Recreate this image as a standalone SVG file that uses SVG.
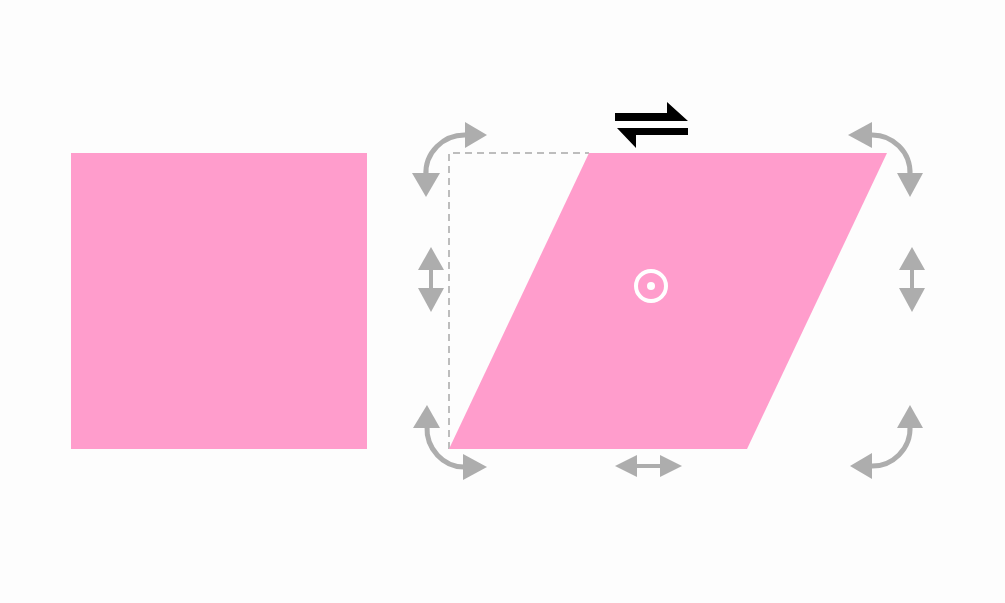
<svg xmlns="http://www.w3.org/2000/svg" width="1005" height="603" viewBox="0 0 1005 603">
<style>
.shape{fill:#ff9dcc}
.arc{fill:none;stroke:#adadad;stroke-width:5}
.head{fill:#adadad}
.shaft{stroke:#adadad;stroke-width:4}
.dash{fill:none;stroke:#bdbdbd;stroke-width:2;stroke-dasharray:7,5}
.harp{fill:#000}
</style>
<rect width="1005" height="603" fill="#fdfdfd"/>
<g id="square"><rect class="shape" x="71" y="153" width="296" height="296"/></g>
<g id="connectors">
<path class="dash" d="M449,449 V153 H589"/>
</g>
<g id="parallelogram">
<polygon class="shape" points="589,153 887,153 747,449 449,449"/>
<circle cx="651" cy="286" r="15" fill="none" stroke="#fff" stroke-width="4"/>
<circle cx="651" cy="286" r="4" fill="#fff"/>
</g>
<g id="shear-arrows">
<polygon class="harp" points="615,113 667,113 667,102 688,121 615,121"/>
<polygon class="harp" points="617,128 688,128 688,135 636,135 636,148"/>
</g>
<g id="rot-top-left">
<path class="arc" d="M426,176 A39,38 0 0 1 467,135"/>
<polygon class="head" points="465,122 465,148 487,135"/>
<polygon class="head" points="412,173 440,173 426,197"/>
</g>
<g id="rot-top-right">
<path class="arc" d="M870,135 A38,38 0 0 1 910,175"/>
<polygon class="head" points="848,135 872,122 872,148"/>
<polygon class="head" points="897,173 923,173 910,197"/>
</g>
<g id="rot-bottom-left">
<path class="arc" d="M427,426 A37,39 0 0 0 465,467"/>
<polygon class="head" points="413,428 440,428 427,405"/>
<polygon class="head" points="463,454 463,480 487,467"/>
</g>
<g id="rot-bottom-right">
<path class="arc" d="M910,426 A38,38 0 0 1 870,466"/>
<polygon class="head" points="897,428 923,428 910,405"/>
<polygon class="head" points="850,466 872,453 872,479"/>
</g>
<g id="v-left">
<line class="shaft" x1="431" y1="268" x2="431" y2="290"/>
<polygon class="head" points="418,270 444,270 431,247"/>
<polygon class="head" points="418,288 444,288 431,312"/>
</g>
<g id="v-right">
<line class="shaft" x1="912" y1="268" x2="912" y2="290"/>
<polygon class="head" points="899,270 925,270 912,247"/>
<polygon class="head" points="899,288 925,288 912,312"/>
</g>
<g id="h-bottom">
<line class="shaft" x1="635" y1="466" x2="662" y2="466"/>
<polygon class="head" points="615,466 637,455 637,477"/>
<polygon class="head" points="660,455 660,477 682,466"/>
</g>
</svg>
